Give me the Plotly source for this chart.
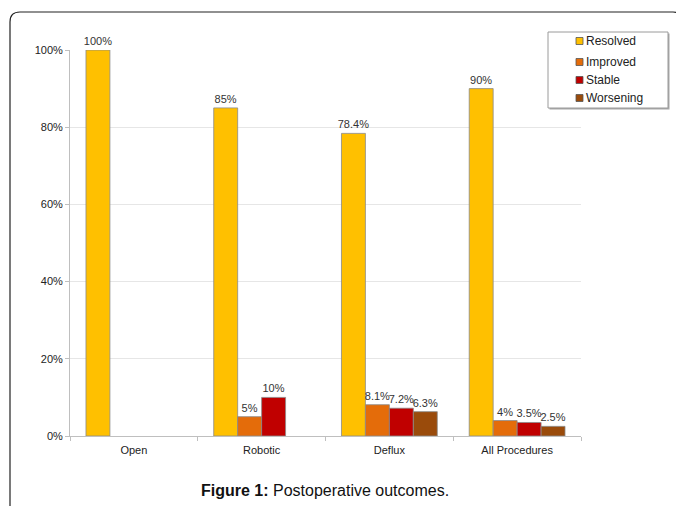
import plotly.graph_objects as go

categories = ["Open", "Robotic", "Deflux", "All Procedures"]
resolved = [100, 85, 78.4, 90]
improved = [None, 5, 8.1, 4]
stable = [None, 10, 7.2, 3.5]
worsening = [None, None, 6.3, 2.5]
series_names = ["Resolved", "Improved", "Stable", "Worsening"]
series_colors = ["#FFC000", "#E46C0A", "#C00000", "#9A4B0B"]
y_ticks = [0, 20, 40, 60, 80, 100]
y_tick_labels = ["0%", "20%", "40%", "60%", "80%", "100%"]

# page offset (browser body margin) is 8px; figure is drawn 8px in from the top-left
OFF = 8
W, H = 684 - OFF, 506 - OFF
L, R, T, B = 70, 581, 50, 436  # plot area in screenshot pixels

def px_x(p):
    return (p - L) / (R - L)

def px_y(p):
    return (B - p) / (B - T)

FONT = "Liberation Sans, Arial, sans-serif"

fig = go.Figure()
for name, vals, col in zip(series_names, [resolved, improved, stable, worsening], series_colors):
    fig.add_trace(go.Bar(
        x=categories, y=vals, name=name, showlegend=False,
        marker=dict(color=col, line=dict(color="#8A8A8A", width=0.8)),
        text=[("" if v is None else f"{v:g}%") for v in vals],
        textposition="outside", cliponaxis=False, constraintext="none",
        textfont=dict(size=11, color="#333333", family=FONT),
    ))

# outer rounded frame (decoration)
r = 10
x0, y0, x1, y1 = 10, 12, 683, 520
path = (f"M {px_x(x0)},{px_y(y1)} L {px_x(x0)},{px_y(y0 + r)} "
        f"Q {px_x(x0)},{px_y(y0)} {px_x(x0 + r)},{px_y(y0)} "
        f"L {px_x(x1 - r)},{px_y(y0)} Q {px_x(x1)},{px_y(y0)} {px_x(x1)},{px_y(y0 + r)} "
        f"L {px_x(x1)},{px_y(y1)}")
fig.add_shape(type="path", path=path, xref="paper", yref="paper",
              line=dict(color="#222222", width=1.2), layer="above")

# custom legend box (Excel style) with light shadow
lx0, ly0, lx1, ly1 = 548, 32, 668, 108
fig.add_shape(type="rect", xref="paper", yref="paper",
              x0=px_x(lx0 + 1.5), x1=px_x(lx1 + 1.5), y0=px_y(ly1 + 1.5), y1=px_y(ly0 + 1.5),
              line=dict(width=0), fillcolor="#A8A8A8", layer="above")
fig.add_shape(type="rect", xref="paper", yref="paper",
              x0=px_x(lx0), x1=px_x(lx1), y0=px_y(ly1), y1=px_y(ly0),
              line=dict(color="#9A9A9A", width=1), fillcolor="white", layer="above")
item_y = [41, 62, 80, 98]
for name, col, iy in zip(series_names, series_colors, item_y):
    fig.add_shape(type="rect", xref="paper", yref="paper",
                  x0=px_x(576), x1=px_x(583), y0=px_y(iy + 3.5), y1=px_y(iy - 3.5),
                  line=dict(color="#555555", width=0.8), fillcolor=col, layer="above")
    fig.add_annotation(text=name, x=px_x(584), y=px_y(iy), xref="paper", yref="paper",
                       showarrow=False, xanchor="left", yanchor="middle",
                       font=dict(size=12, color="#222222", family=FONT))

fig.add_annotation(text="<b>Figure 1:</b> Postoperative outcomes.",
                   x=px_x(325), y=px_y(490), xref="paper", yref="paper",
                   showarrow=False, xanchor="center", yanchor="middle",
                   font=dict(size=16, color="#111111", family=FONT))

fig.update_layout(
    width=W, height=H,
    margin=dict(l=L - OFF, r=W - (R - OFF), t=T - OFF, b=H - (B - OFF), pad=0),
    paper_bgcolor="white", plot_bgcolor="white",
    barmode="group", bargap=0.25, bargroupgap=0,
    font=dict(family=FONT, size=11, color="#222222"),
    showlegend=False,
)
fig.update_yaxes(range=[0, 100], tickmode="array", tickvals=y_ticks, ticktext=y_tick_labels,
                 showgrid=True, gridcolor="#E6E6E6", gridwidth=1,
                 showline=True, linecolor="#BFBFBF", linewidth=1,
                 ticks="outside", ticklen=4, tickcolor="#BFBFBF",
                 zeroline=False, tickfont=dict(size=11, color="#222222"))
fig.update_xaxes(showline=True, linecolor="#BFBFBF", linewidth=1,
                 ticks="outside", tickson="boundaries", ticklen=4, tickcolor="#BFBFBF",
                 ticklabelstandoff=4,
                 showgrid=False, tickfont=dict(size=11, color="#222222"))

fig.write_html("out.html")
